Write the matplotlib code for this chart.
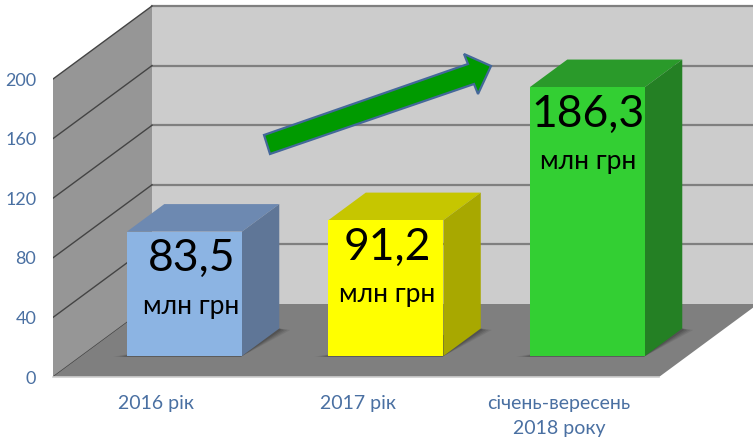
import matplotlib
matplotlib.use('Agg')
import matplotlib.pyplot as plt
from matplotlib.patches import Polygon
from matplotlib.transforms import Affine2D

plt.rcParams['font.family'] = ['Lato', 'Open Sans', 'DejaVu Sans']

# Data
categories = ['2016 рік', '2017 рік', 'січень-вересень\n2018 року']
bar_heights = [83.5, 91.2, 180.5]  # drawn height
value_labels = ['83,5', '91,2', '186,3']
unit_label = 'млн грн'
y_ticks = [0, 40, 80, 120, 160, 200]

front_colors = ['#8cb4e3', '#ffff00', '#33cf33']
top_colors = ['#6d89b1', '#c6c600', '#2a9a2a']
side_colors = ['#5f7697', '#a8a800', '#248024']

W, H = 753, 441
fig = plt.figure(figsize=(W / 100, H / 100), dpi=100)
ax = fig.add_axes([53 / W, (H - 377) / H, (W - 53) / W, 377 / H])

# Scales in pixels of the picture
px_per_cat = 201.5
px_per_val = 1.49
cat0_px = 156
ax.set_xlim((53 - cat0_px) / px_per_cat, (W - cat0_px) / px_per_cat)
ax.set_ylim(0, 377 / px_per_val)

# Depth goes from 0 (front edge) to 1 (back wall)
depth_x = 99 / px_per_cat
depth_y = 73 / px_per_val
x_left = ax.get_xlim()[0]
x_right = ax.get_xlim()[1] + 1


def proj(x, v, d):
    return (x + d * depth_x, v + d * depth_y)


def poly(points, color, z, **kw):
    ax.add_patch(Polygon(points, closed=True, facecolor=color, edgecolor='none', zorder=z, **kw))


# Walls and floor
poly([proj(x_left, 0, 1), proj(x_right, 0, 1), proj(x_right, 200, 1), proj(x_left, 200, 1)], '#cccccc', 1)
poly([proj(x_left, 0, 0), proj(x_left, 0, 1), proj(x_left, 200, 1), proj(x_left, 200, 0)], '#969696', 1)
right_front = (659 - cat0_px) / px_per_cat
poly([proj(x_left, 0, 0), proj(right_front, 0, 0), proj(right_front, 0, 1), proj(x_left, 0, 1)], '#7f7f7f', 2)
ax.plot([x_left, right_front], [0, 0], color='#d0d0d0', lw=1.2, zorder=2, clip_on=False)

for t in y_ticks:
    if t > 0:
        a = proj(x_left, t, 1)
        b = proj(x_right, t, 1)
        ax.plot([a[0], b[0]], [a[1], b[1]], color='#7f7f7f', lw=1.6, zorder=1.5)
    c = proj(x_left, t, 0)
    a = proj(x_left, t, 1)
    ax.plot([c[0], a[0]], [c[1], a[1]], color='#444444', lw=1.0, zorder=1.5)

# Bars
bar_w = 115 / px_per_cat
d_front = 21 / 73
d_back = d_front + 27.5 / 73

for i, h in enumerate(bar_heights):
    l = i - bar_w / 2
    r = i + bar_w / 2
    # soft shadow on the floor
    for grow, alpha in [(13, 0.10), (10, 0.12), (7, 0.15), (4, 0.2)]:
        g = grow / px_per_cat
        poly([proj(l - g, 0, d_front - 0.01), proj(r, 0, d_front - 0.01),
              proj(r + g, 0, d_back - 0.02), proj(r, 0, d_back)], '#222222', 3, alpha=alpha)
    poly([proj(l, h, d_front), proj(r, h, d_front), proj(r, h, d_back), proj(l, h, d_back)], top_colors[i], 4)
    poly([proj(r, 0, d_front), proj(r, 0, d_back), proj(r, h, d_back), proj(r, h, d_front)], side_colors[i], 4)
    poly([proj(l, 0, d_front), proj(r, 0, d_front), proj(r, h, d_front), proj(l, h, d_front)], front_colors[i], 5)
    tx, ty = proj(i + 7 / px_per_cat if i == 0 else i + 1 / px_per_cat, h, d_front)
    ax.annotate(value_labels[i], (tx, ty), xytext=(0, -27 * 0.72), textcoords='offset points',
                ha='center', va='center', fontsize=32, color='black', zorder=6)
    ax.annotate(unit_label, (tx, ty), xytext=(0, -74.5 * 0.72), textcoords='offset points',
                ha='center', va='center', fontsize=19, color='black', zorder=6)

# Trend arrow, placed in picture pixels
px = Affine2D().scale(1, -1).translate(0, H) + fig.dpi_scale_trans.inverted() + fig.dpi_scale_trans
arrow_pts = [(264, 135), (468, 64), (464, 54), (491, 66), (478, 94), (474, 84), (270, 154)]
fig.add_artist(Polygon(arrow_pts, closed=True, facecolor='#009a00', edgecolor='#44689a', lw=1.6,
                       transform=px, zorder=7))

# Axes
ax.set_xticks(range(len(categories)))
ax.set_xticklabels(categories, fontsize=14, color='#4a70a2', linespacing=1.55)
ax.set_yticks(y_ticks)
ax.set_yticklabels([str(t) for t in y_ticks], fontsize=13, color='#4a70a2')
ax.tick_params(axis='x', length=0, pad=13)
ax.tick_params(axis='y', length=0, pad=12)
for s in ax.spines.values():
    s.set_visible(False)
ax.patch.set_visible(False)

fig.savefig('out.png', dpi=100)
